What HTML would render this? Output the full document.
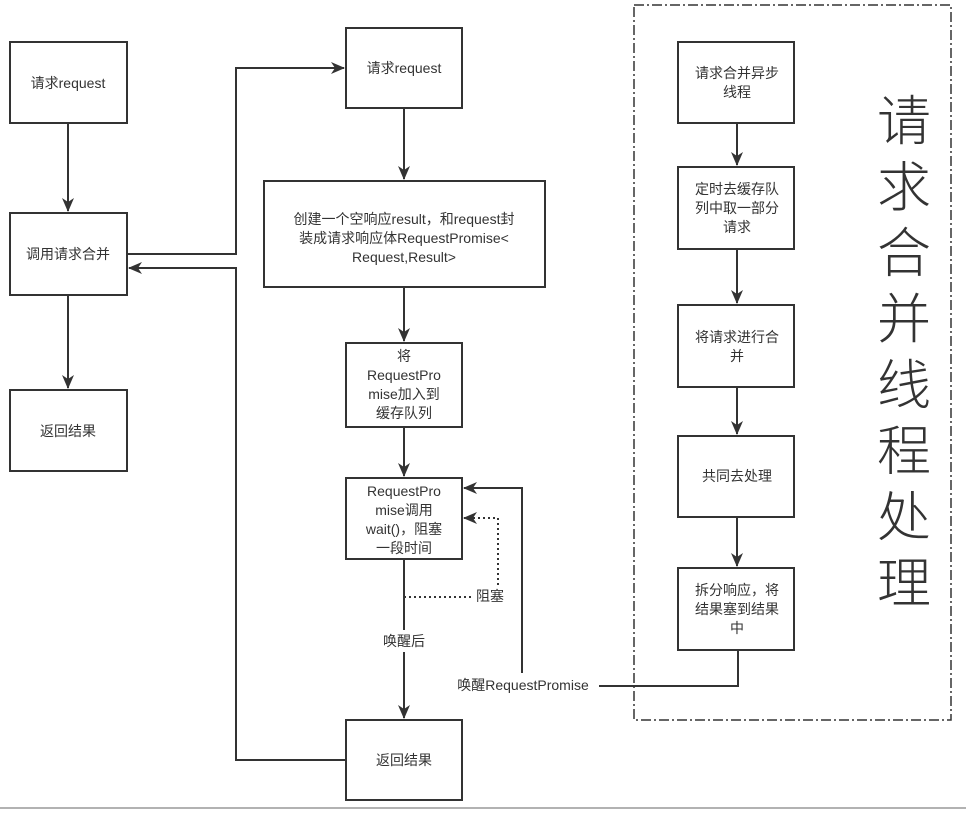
<!DOCTYPE html>
<html><head><meta charset="utf-8"><style>
body{margin:0;background:#fff;}
svg text{font-family:"Liberation Sans","Noto Sans CJK SC",sans-serif;fill:#333;}
</style></head><body>
<svg width="966" height="813" viewBox="0 0 966 813" xmlns="http://www.w3.org/2000/svg">
<defs><marker id="b" markerWidth="14" markerHeight="12" refX="13" refY="6" orient="auto" markerUnits="userSpaceOnUse"><path d="M0,0 L14,6 L0,12 L4,6 Z" fill="#333"/></marker></defs>
<rect x="634" y="5" width="317" height="715" fill="none" stroke="#333" stroke-width="1.5" stroke-dasharray="10,3,2,3"/>
<g fill="#fff" stroke="#333" stroke-width="2">
<rect x="10" y="42" width="117" height="81"/><rect x="10" y="213" width="117" height="82"/><rect x="10" y="390" width="117" height="81"/>
<rect x="346" y="28" width="116" height="80"/><rect x="264" y="181" width="281" height="106"/><rect x="346" y="343" width="116" height="84"/>
<rect x="346" y="478" width="116" height="81"/><rect x="346" y="720" width="116" height="80"/>
<rect x="678" y="42" width="116" height="81"/><rect x="678" y="167" width="116" height="82"/><rect x="678" y="305" width="116" height="82"/>
<rect x="678" y="436" width="116" height="81"/><rect x="678" y="568" width="116" height="82"/>
</g>
<g stroke="#333" stroke-width="2" fill="none">
<path d="M68,123 V211" marker-end="url(#b)"/><path d="M68,295 V388" marker-end="url(#b)"/>
<path d="M127,254 H236 V68 H344" marker-end="url(#b)"/>
<path d="M346,760 H236 V268 H129" marker-end="url(#b)"/>
<path d="M404,108 V179" marker-end="url(#b)"/><path d="M404,287 V341" marker-end="url(#b)"/>
<path d="M404,427 V476" marker-end="url(#b)"/><path d="M404,559 V630"/><path d="M404,652 V718" marker-end="url(#b)"/>
<path d="M737,123 V165" marker-end="url(#b)"/><path d="M737,249 V303" marker-end="url(#b)"/>
<path d="M737,387 V434" marker-end="url(#b)"/><path d="M737,517 V566" marker-end="url(#b)"/>
<path d="M599,686 H738 V650"/>
<path d="M522,673 V488 H464" marker-end="url(#b)"/>
<path d="M404,597 H472" stroke-dasharray="2,3"/>
<path d="M498,585 V518 H464" stroke-dasharray="2,3" marker-end="url(#b)"/>
</g>
<line x1="0" y1="808" x2="966" y2="808" stroke="#666" stroke-width="1"/>
<g font-size="14" text-anchor="middle">
<text x="68" y="88">请求request</text><text x="68" y="259">调用请求合并</text><text x="68" y="436">返回结果</text>
<text x="404" y="73">请求request</text>
<text x="404" y="224">创建一个空响应result，和request封</text><text x="404" y="243">装成请求响应体RequestPromise&lt;</text><text x="404" y="262">Request,Result&gt;</text>
<text x="404" y="361">将</text><text x="404" y="380">RequestPro</text><text x="404" y="399">mise加入到</text><text x="404" y="418">缓存队列</text>
<text x="404" y="496">RequestPro</text><text x="404" y="515">mise调用</text><text x="404" y="534">wait()，阻塞</text><text x="404" y="553">一段时间</text>
<text x="404" y="765">返回结果</text>
<text x="404" y="646">唤醒后</text>
<text x="490" y="601">阻塞</text>
<text x="523" y="690">唤醒RequestPromise</text>
<text x="737" y="78">请求合并异步</text><text x="737" y="97">线程</text>
<text x="737" y="194">定时去缓存队</text><text x="737" y="213">列中取一部分</text><text x="737" y="232">请求</text>
<text x="737" y="342">将请求进行合</text><text x="737" y="361">并</text>
<text x="737" y="481">共同去处理</text>
<text x="737" y="595">拆分响应，将</text><text x="737" y="614">结果塞到结果</text><text x="737" y="633">中</text>
</g>
<g font-size="54" text-anchor="middle" font-weight="300">
<text x="904" y="140">请</text><text x="904" y="206">求</text><text x="904" y="272">合</text><text x="904" y="338">并</text>
<text x="904" y="404">线</text><text x="904" y="470">程</text><text x="904" y="536">处</text><text x="904" y="602">理</text>
</g>
</svg>
</body></html>
